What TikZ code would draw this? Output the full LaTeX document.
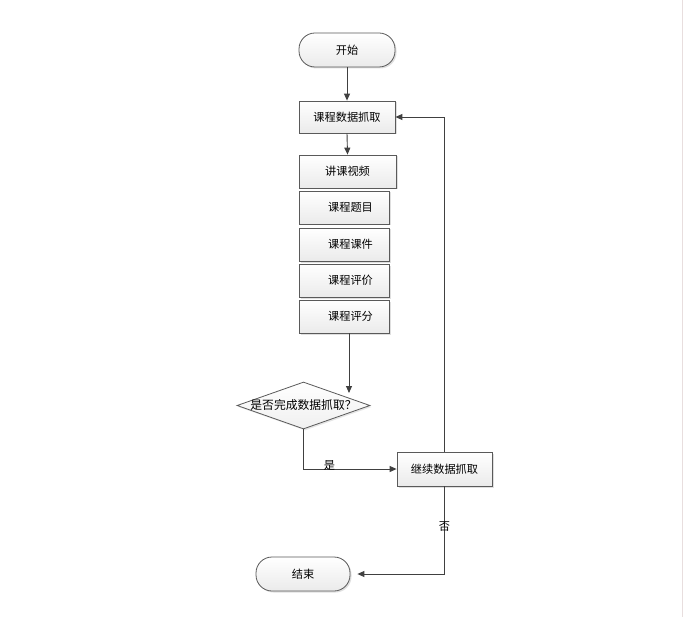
\documentclass[tikz,border=0pt]{standalone}
\usepackage{fontspec}
\setmainfont{Noto Sans CJK SC}
\usetikzlibrary{shapes.geometric,shadows,arrows.meta}
\definecolor{lc}{HTML}{404040}
\definecolor{bc}{HTML}{5A5A5A}
\begin{document}
\begin{tikzpicture}[x=1pt,y=-1pt,
  txt/.style={font=\fontsize{11.2}{13}\selectfont, text=black},
  box/.style={rectangle, draw=bc, line width=0.8pt, top color=white, bottom color=gray!16,
    drop shadow={shadow xshift=1.5pt, shadow yshift=-1.5pt, opacity=0.25}, inner sep=0pt, txt},
  term/.style={box, rounded corners=16pt},
  conn/.style={draw=lc, line width=0.9pt, -{Triangle[length=7pt,width=6pt]}},
  lab/.style={txt, inner sep=0.5pt}]
\useasboundingbox (0,0) rectangle (684,617);
\fill[white] (0,0) rectangle (684,617);
\draw[color={rgb,255:red,232;green,222;blue,222}, line width=1pt] (682.5,0) -- (682.5,617);

\node[term, minimum width=96pt, minimum height=34pt] (start) at (347,50) {开始};
\node[box, minimum width=96pt, minimum height=32pt] (grab) at (347,117) {课程数据抓取};
\node[box, minimum width=97pt, minimum height=33pt] (v1) at (347.5,171.5) {讲课视频};
\node[box, minimum width=90pt, minimum height=33pt] (v2) at (344,207.5) {\hspace*{13pt}课程题目};
\node[box, minimum width=90pt, minimum height=33pt] (v3) at (344,244.5) {\hspace*{13pt}课程课件};
\node[box, minimum width=90pt, minimum height=33pt] (v4) at (344,280.5) {\hspace*{13pt}课程评价};
\node[box, minimum width=90pt, minimum height=33pt] (v5) at (344,316.5) {\hspace*{13pt}课程评分};
\node[diamond, draw=bc, line width=0.8pt, top color=white, bottom color=gray!12,
  minimum width=133pt, minimum height=47pt, inner sep=0pt,
  drop shadow={shadow xshift=1.5pt, shadow yshift=-1.5pt, opacity=0.2}] (dia) at (303.5,405.5) {};
\node[txt, font=\fontsize{11.8}{13}\selectfont] (diat) at (dia.center) {是否完成数据抓取？};
\node[box, minimum width=95pt, minimum height=34pt] (cont) at (444.5,469) {继续数据抓取};
\node[term, minimum width=94pt, minimum height=34pt] (end) at (303,574) {结束};

\coordinate (a1) at (349,393);
\draw[conn] (start.south) -- (grab.north);
\draw[conn] (grab.south) -- (v1.north);
\draw[conn] (v5.south -| a1) -- (a1);
\draw[conn] (dia.south) |- node[lab, pos=0.64, anchor=south, yshift=-2pt] {是} (cont.west);
\draw[conn] (cont.north) |- (grab.east);
\draw[conn, shorten >=7pt] (cont.south) |- node[lab, pos=0.23] {否} (end.east);
\end{tikzpicture}
\end{document}
